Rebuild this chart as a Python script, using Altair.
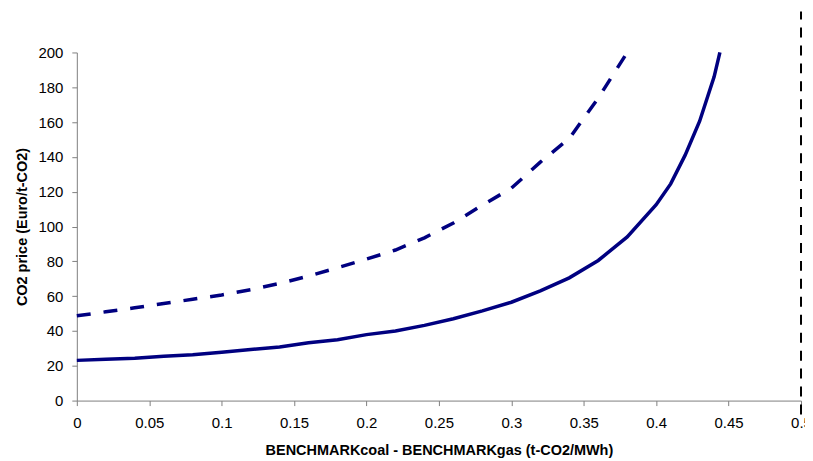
import altair as alt
import pandas as pd

# Solid curve
solid_x = [0.0, 0.02, 0.04, 0.06, 0.08, 0.10, 0.12, 0.14, 0.16, 0.18, 0.20, 0.22,
           0.24, 0.26, 0.28, 0.30, 0.32, 0.34, 0.36, 0.38, 0.40, 0.41, 0.42, 0.43,
           0.44, 0.444]
solid_y = [23.1, 23.7, 24.3, 25.5, 26.3, 27.8, 29.3, 30.8, 33.2, 35.0, 37.9, 40.0,
           43.2, 47.0, 51.5, 56.5, 63.0, 70.5, 80.5, 94.0, 112.5, 124.5, 141.0, 160.5,
           186.0, 200.0]

# Dashed curve
dash_x = [0.0, 0.02, 0.04, 0.06, 0.08, 0.10, 0.12, 0.14, 0.16, 0.18, 0.20, 0.22,
          0.24, 0.26, 0.28, 0.30, 0.32, 0.34, 0.36, 0.38]
dash_y = [48.7, 51.0, 53.3, 55.8, 58.2, 60.7, 63.7, 67.3, 71.5, 76.3, 81.3, 86.5,
          93.5, 102.0, 112.3, 122.0, 137.0, 150.6, 173.8, 200.0]

# Vertical reference line
ref_x = [0.5, 0.5]
ref_y = [-8, 223.5]

x_ticks = [0, 0.05, 0.1, 0.15, 0.2, 0.25, 0.3, 0.35, 0.4, 0.45, 0.5]
y_ticks = [0, 20, 40, 60, 80, 100, 120, 140, 160, 180, 200]

solid_df = pd.DataFrame({"x": solid_x, "y": solid_y})
dash_df = pd.DataFrame({"x": dash_x, "y": dash_y})
ref_df = pd.DataFrame({"x": [ref_x[0]], "y": [ref_y[0]], "y2": [ref_y[1]]})

xscale = alt.Scale(domain=[0, 0.5], nice=False, zero=False)
yscale = alt.Scale(domain=[0, 200], nice=False)

xaxis = alt.Axis(values=x_ticks, title="BENCHMARKcoal - BENCHMARKgas (t-CO2/MWh)",
                 labelExpr="format(datum.value, '~g')", labelPadding=10,
                 labelFlush=False, titlePadding=13)
yaxis = alt.Axis(values=y_ticks, title="CO2 price (Euro/t-CO2)",
                 labelPadding=9, titlePadding=8)

enc_x = alt.X("x:Q", scale=xscale, axis=xaxis)
enc_y = alt.Y("y:Q", scale=yscale, axis=yaxis)

solid = alt.Chart(solid_df).mark_line(color="#000080", strokeWidth=3.5).encode(
    x=enc_x, y=enc_y,
)
dashed = alt.Chart(dash_df).mark_line(color="#000080", strokeWidth=3.5,
                                      strokeDash=[14, 13]).encode(
    x=enc_x, y=enc_y,
)
ref = alt.Chart(ref_df).mark_rule(color="#000000", strokeWidth=2,
                                  strokeDash=[10, 8], clip=False).encode(
    x=enc_x, y=enc_y, y2="y2:Q",
)

chart = alt.layer(solid, dashed, ref).properties(
    width=726, height=349,
    autosize=alt.AutoSizeParams(type="none"),
    padding={"left": 69, "top": 44, "right": 4, "bottom": 60},
).configure_view(stroke=None).configure_axis(
    grid=False, domainColor="#808080", tickColor="#808080", tickSize=5,
    labelFontSize=15, labelColor="#000000", labelOverlap=False,
    labelFont="Liberation Sans", titleFont="Liberation Sans", titleFontSize=14.5,
    titleFontWeight="bold", titleColor="#000000",
)

chart.save("out.html", embed_options={"renderer": "svg", "actions": False})
